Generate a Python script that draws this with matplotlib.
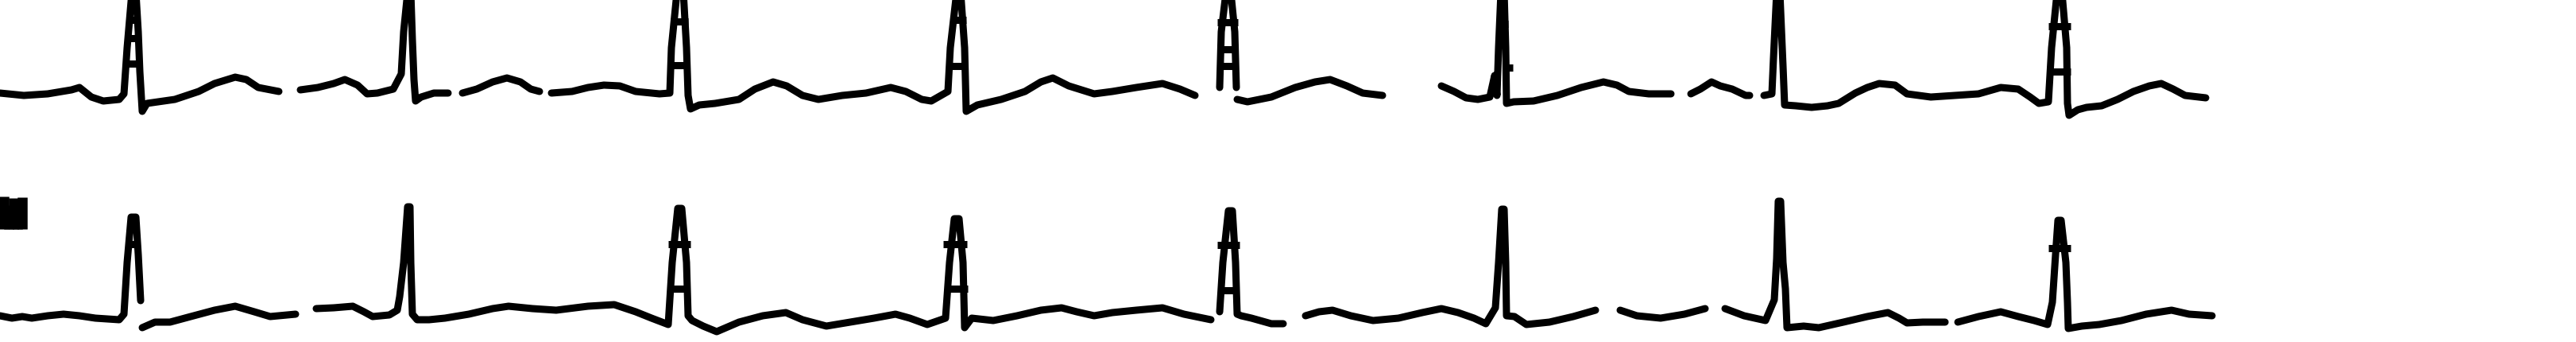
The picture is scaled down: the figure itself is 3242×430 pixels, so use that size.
import matplotlib
matplotlib.use("Agg")
import matplotlib.pyplot as plt

# ---- Trace data (horizontal position, vertical position on the strip, top = 0) ----
# Upper strip segments
top_seg1_x = [0, 30, 60, 90, 100, 115, 130, 150, 156, 160, 166, 171, 174, 176, 179, 185, 220, 250, 270, 296, 310, 325, 351]
top_seg1_y = [117, 120, 118, 113, 110, 122, 127, 125, 118, 60, -10, -10, 40, 90, 140, 130, 125, 115, 105, 97, 100, 110, 115]
top_seg2_x = [378, 400, 420, 434, 450, 462, 475, 495, 505, 508, 513, 517, 519, 521, 523, 530, 546, 564]
top_seg2_y = [113, 110, 105, 100, 107, 118, 117, 112, 93, 40, -10, -10, 50, 100, 127, 122, 117, 117]
top_seg3_x = [582, 600, 620, 638, 655, 668, 679]
top_seg3_y = [117, 112, 103, 98, 103, 112, 115]
top_seg4_x = [694, 720, 740, 760, 780, 800, 830, 843, 845, 852, 860, 864, 866, 869, 880, 900, 930, 950, 973, 990,
              1010, 1030, 1060, 1090, 1121, 1140, 1160, 1172, 1193, 1196, 1204, 1209, 1214, 1216, 1230, 1260, 1290,
              1310, 1325, 1345, 1377, 1400, 1430, 1463, 1485, 1504]
top_seg4_y = [117, 115, 110, 107, 108, 115, 118, 117, 60, -10, -10, 60, 120, 137, 132, 130, 125, 112, 103, 108,
              120, 125, 120, 117, 110, 115, 125, 127, 115, 60, -10, -10, 60, 140, 132, 125, 115,
              103, 98, 108, 118, 115, 110, 105, 112, 120]
top_seg5_x = [1535, 1537, 1543, 1549, 1554, 1556]
top_seg5_y = [110, 40, -10, -10, 40, 110]
top_seg6_x = [1557, 1570, 1600, 1630, 1655, 1674, 1695, 1715, 1740]
top_seg6_y = [125, 128, 122, 110, 103, 100, 108, 117, 120]
top_seg7_x = [1814, 1830, 1845, 1860, 1875, 1881, 1884, 1886, 1889, 1893, 1895, 1896, 1905, 1930, 1960, 1990,
              2018, 2035, 2050, 2075, 2103]
top_seg7_y = [108, 115, 123, 125, 122, 95, 120, 60, -10, -10, 60, 130, 128, 127, 120, 110,
              103, 107, 115, 118, 118]
top_seg8_x = [2128, 2140, 2154, 2165, 2180, 2197, 2202]
top_seg8_y = [118, 112, 103, 108, 112, 120, 120]
top_seg9_x = [2220, 2230, 2232, 2236, 2240, 2244, 2246, 2260, 2280, 2300, 2314, 2335, 2350, 2365, 2385, 2400,
              2430, 2460, 2490, 2518, 2540, 2555, 2566, 2578, 2582, 2589, 2595, 2601, 2602, 2604, 2615, 2626,
              2645, 2665, 2685, 2705, 2720, 2735, 2750, 2776]
top_seg9_y = [120, 118, 73, -10, -10, 83, 132, 133, 135, 133, 130, 117, 110, 105, 107, 118,
              122, 120, 118, 110, 112, 122, 130, 128, 60, -10, -10, 60, 130, 145, 138, 135,
              133, 125, 115, 108, 105, 112, 120, 123]

# Lower strip segments
bot_seg1_x = [0, 15, 28, 40, 60, 80, 100, 120, 150, 156, 160, 165, 171, 174, 177]
bot_seg1_y = [397, 400, 398, 400, 397, 395, 397, 400, 402, 395, 330, 273, 273, 320, 378]
bot_seg2_x = [179, 195, 214, 240, 270, 296, 320, 340, 372]
bot_seg2_y = [412, 405, 405, 398, 390, 385, 392, 398, 395]
bot_seg3_x = [398, 420, 444, 458, 469, 490, 500, 503, 508, 513, 516, 517, 519, 525, 540, 560, 590, 620, 640,
              670, 700, 740, 773, 800, 820, 841, 846, 853, 858, 864, 866, 871, 885, 902, 930, 960, 989, 1010,
              1040, 1070, 1100, 1127, 1145, 1167, 1190, 1195, 1201, 1207, 1212, 1214, 1223, 1250, 1280, 1310,
              1336, 1355, 1377, 1400, 1430, 1463, 1490, 1524]
bot_seg3_y = [388, 387, 385, 392, 398, 396, 390, 373, 330, 260, 260, 330, 395, 402, 402, 400, 395, 388, 385,
              388, 390, 385, 383, 392, 400, 408, 330, 262, 262, 330, 397, 403, 410, 417, 405, 397, 393, 402,
              410, 405, 400, 395, 400, 408, 400, 330, 275, 275, 330, 412, 400, 403, 397, 390,
              387, 392, 397, 393, 390, 387, 395, 402]
bot_seg4_x = [1535, 1539, 1546, 1551, 1555, 1557, 1562, 1575, 1600, 1615]
bot_seg4_y = [392, 330, 265, 265, 330, 395, 397, 400, 407, 407]
bot_seg5_x = [1643, 1660, 1677, 1700, 1728, 1760, 1790, 1814, 1835, 1855, 1870, 1882, 1886, 1890, 1893, 1895,
              1896, 1906, 1921, 1950, 1980, 2008]
bot_seg5_y = [397, 392, 390, 397, 403, 400, 393, 388, 393, 400, 407, 387, 330, 263, 263, 330,
              397, 398, 408, 405, 398, 390]
bot_seg6_x = [2039, 2060, 2090, 2120, 2146]
bot_seg6_y = [390, 397, 400, 395, 388]
bot_seg7_x = [2171, 2195, 2222, 2233, 2236, 2238, 2241, 2244, 2247, 2249, 2270, 2289, 2320, 2350, 2376, 2390,
              2400, 2420, 2448]
bot_seg7_y = [388, 397, 403, 377, 325, 253, 253, 330, 363, 412, 410, 412, 405, 398, 393, 400,
              406, 405, 405]
bot_seg8_x = [2464, 2490, 2518, 2540, 2560, 2577, 2583, 2587, 2590, 2594, 2600, 2602, 2603, 2620, 2642, 2670,
              2701, 2733, 2755, 2784]
bot_seg8_y = [405, 398, 392, 398, 403, 408, 380, 320, 277, 277, 330, 380, 413, 410, 408, 403,
              395, 390, 395, 397]

# Horizontal "rung" marks across the QRS complexes: centre, level, width
rung_x = [168, 168, 168, 855, 855, 1206, 1206, 1545, 1545, 1545, 1893, 1899, 2592, 2592,
          168, 855, 855, 1202, 1204, 1546, 1546, 1891, 2238, 2592]
rung_y = [25, 48, 80, 27, 82, 25, 83, 28, 62, 83, 30, 85, 33, 90,
          307, 307, 363, 307, 363, 308, 365, 312, 312, 312]
rung_w = [16, 14, 16, 22, 22, 20, 22, 26, 20, 26, 10, 10, 28, 28,
          14, 28, 26, 30, 28, 28, 26, 12, 12, 28]

# Scan blot at left of lower strip
blot_x = [5, 17, 28]
blot_top = [247, 249, 248]
blot_bottom = [288, 288, 288]

W, H = 3242, 430
fig = plt.figure(figsize=(W / 100, H / 100), dpi=100)
ax = fig.add_axes([0, 0, 1, 1])
ax.set_xlim(0, W)
ax.set_ylim(H, 0)
ax.axis("off")

segments = [
    (top_seg1_x, top_seg1_y), (top_seg2_x, top_seg2_y), (top_seg3_x, top_seg3_y),
    (top_seg4_x, top_seg4_y), (top_seg5_x, top_seg5_y), (top_seg6_x, top_seg6_y),
    (top_seg7_x, top_seg7_y), (top_seg8_x, top_seg8_y), (top_seg9_x, top_seg9_y),
    (bot_seg1_x, bot_seg1_y), (bot_seg2_x, bot_seg2_y), (bot_seg3_x, bot_seg3_y),
    (bot_seg4_x, bot_seg4_y), (bot_seg5_x, bot_seg5_y), (bot_seg6_x, bot_seg6_y),
    (bot_seg7_x, bot_seg7_y), (bot_seg8_x, bot_seg8_y),
]
for sx, sy in segments:
    ax.plot(sx, sy, color="black", lw=6.5, solid_capstyle="round", solid_joinstyle="round")

for cx, cy, w in zip(rung_x, rung_y, rung_w):
    ax.plot([cx - w / 2, cx + w / 2], [cy, cy], color="black", lw=6.5, solid_capstyle="butt")

ax.vlines(blot_x, blot_top, blot_bottom, color="black", lw=9)
ax.vlines([11, 22], [258, 258], [288, 288], color="black", lw=9)

fig.savefig("out.png", dpi=100, facecolor="white")
